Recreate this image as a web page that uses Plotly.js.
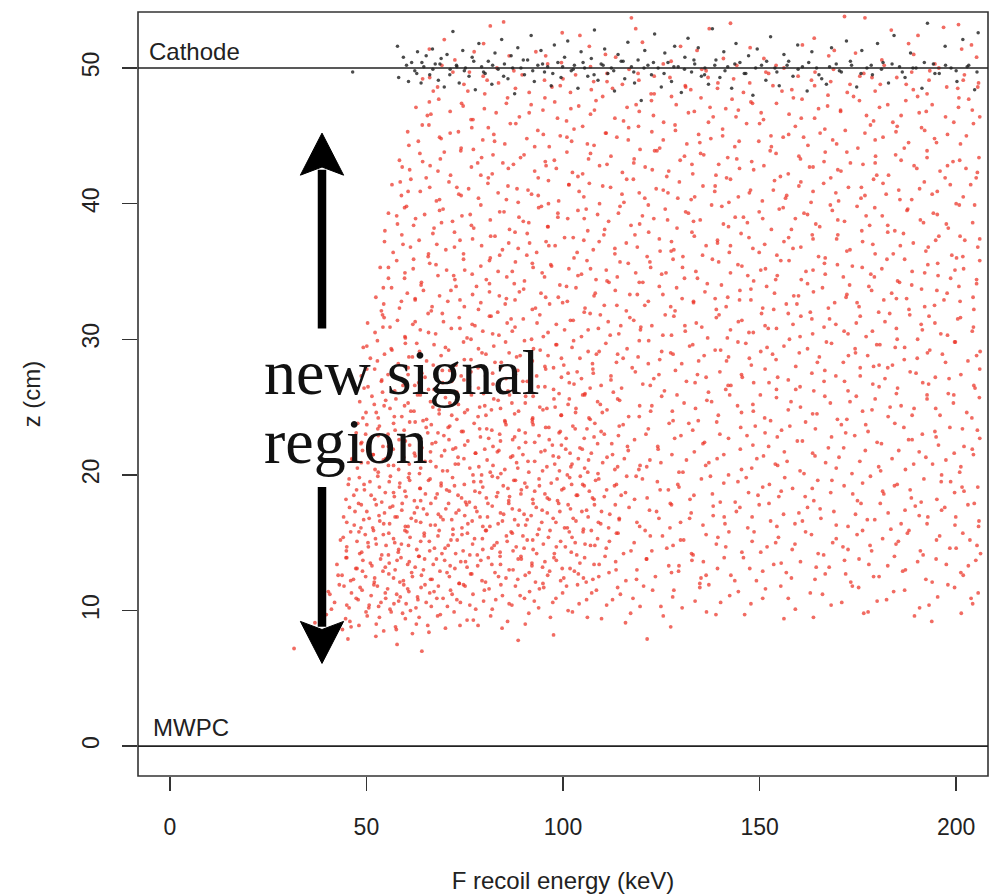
<!DOCTYPE html>
<html><head><meta charset="utf-8">
<script src="https://cdn.plot.ly/plotly-3.0.1.min.js"></script>
<style>html,body{margin:0;padding:0;background:#fff}#chart{width:993px;height:894px}</style>
</head><body><div id="chart"></div>
<script>
// ---- axis / labels ----
const xTicks = [0, 50, 100, 150, 200];
const zTicks = [0, 10, 20, 30, 40, 50];
const xTitle = 'F recoil energy (keV)';
const zTitle = 'z (cm)';
const cathodeZ = 50, mwpcZ = 0;
const cathodeLabel = 'Cathode', mwpcLabel = 'MWPC';
const regionLine1 = 'new signal', regionLine2 = 'region';

// ---- red events (x keV, z cm pairs), grouped by z band ----
const red_z06_10 = [31.6,7.2, 45.3,7.9, 57.8,7.5, 64.1,7.0, 88.6,7.8, 121.4,7.9,
36.9,9.1, 39.8,9.7, 41.2,8.3, 44.7,9.4, 46.1,8.8, 49.9,9.9, 52.4,8.1, 53.3,9.5, 57.6,8.6, 59.2,9.8, 62.7,9.0, 65.9,8.4, 68.1,9.6, 73.8,8.9, 77.2,9.3, 84.5,8.7, 91.3,9.8, 97.6,8.2, 106.2,9.5, 115.9,9.1, 127.4,8.8, 138.9,9.7, 156.2,9.4, 176.5,9.8, 193.8,9.2];
const red_z10_12 = [40.3,11.4, 41.9,10.6, 43.1,11.9, 45.6,10.2, 46.2,11.3, 47.9,10.8, 48.4,11.7, 50.7,10.4, 51.2,11.1, 52.8,11.8, 53.1,10.3, 54.9,10.9, 55.4,11.6, 56.0,10.1, 57.7,11.2, 58.2,10.7, 59.5,11.9, 60.1,10.5, 60.8,11.4, 62.6,10.2, 63.0,11.0, 63.9,11.7, 65.2,10.6, 66.1,11.3, 67.9,10.9, 68.3,11.8, 70.6,10.3, 71.4,11.5, 73.0,10.8, 74.7,11.9, 76.3,10.4, 77.1,11.2, 79.8,10.7, 81.2,11.6, 82.0,10.1, 84.6,11.1, 86.3,10.5, 87.9,11.8, 90.2,10.9, 91.5,11.4, 93.8,10.2, 95.1,11.7, 97.4,10.6, 99.9,11.3, 101.3,10.0, 103.7,11.9, 106.0,10.8, 108.5,11.5, 111.1,10.4, 114.6,11.2, 117.8,10.9, 120.5,11.8, 124.9,10.3, 128.2,11.5, 133.6,10.7, 137.1,11.9, 142.4,11.1, 147.8,10.5, 151.5,11.6, 157.3,10.9, 162.9,11.3, 168.2,10.4, 173.6,11.8, 179.9,10.7, 184.1,11.4, 190.7,10.2, 195.3,11.0, 199.6,11.7, 204.2,10.5];
const red_z12_14 = [42.5,13.4, 43.8,12.6, 45.0,13.9, 46.7,12.3, 47.3,13.1, 49.1,13.7, 49.8,12.5, 51.4,13.3, 52.0,12.1, 53.6,13.8, 54.2,12.9, 55.8,13.5, 56.9,12.4, 57.3,13.0, 58.8,13.9, 59.4,12.2, 60.9,13.6, 61.5,12.8, 62.4,13.2, 64.0,12.6, 64.8,13.8, 66.3,12.3, 67.0,13.4, 68.7,12.9, 69.9,13.7, 71.1,12.5, 72.5,13.1, 73.6,12.0, 75.2,13.6, 76.8,12.7, 78.3,13.3, 79.4,12.2, 81.0,13.9, 82.7,12.8, 84.1,13.4, 85.5,12.4, 87.3,13.0, 88.6,13.8, 90.4,12.6, 92.1,13.5, 93.0,12.1, 94.8,13.2, 96.6,12.9, 98.3,13.7, 100.2,12.4, 101.8,13.1, 103.9,12.7, 105.5,13.9, 107.6,12.3, 109.2,13.4, 111.7,12.8, 113.4,13.6, 116.0,12.2, 118.8,13.0, 121.2,13.8, 123.5,12.5, 126.9,13.3, 129.4,12.9, 132.8,13.7, 135.1,12.4, 139.3,13.1, 142.7,12.6, 145.9,13.9, 149.2,12.2, 153.6,13.4, 156.8,12.8, 160.4,13.6, 164.1,12.3, 167.7,13.2, 171.9,12.7, 175.3,13.8, 179.0,12.5, 182.6,13.3, 186.4,12.9, 190.2,13.6, 193.9,12.1, 197.5,13.4, 201.8,12.6, 205.0,13.7];
const red_z14_16 = [43.4,15.2, 44.9,14.4, 46.0,15.8, 47.6,15.1, 48.3,14.2, 49.7,15.6, 50.5,14.7, 51.8,15.9, 52.3,15.3, 53.9,14.1, 55.0,14.8, 55.7,15.7, 57.2,15.0, 58.1,14.3, 58.9,14.9, 60.3,15.8, 61.1,15.4, 62.8,14.5, 63.4,14.0, 64.7,15.5, 66.0,15.1, 67.3,14.6, 68.5,15.9, 69.2,14.2, 70.8,14.8, 72.0,15.6, 73.1,15.2, 74.6,14.4, 75.7,15.7, 77.0,14.9, 78.2,14.1, 79.5,15.3, 80.3,15.9, 81.9,14.6, 83.2,15.0, 84.0,14.3, 85.6,15.5, 86.8,15.8, 88.1,14.7, 89.3,14.0, 90.9,15.2, 92.4,14.5, 93.5,15.6, 95.0,14.9, 96.7,15.9, 97.8,14.2, 99.4,15.1, 100.6,14.7, 102.3,15.4, 103.5,14.1, 105.1,15.8, 107.0,14.8, 108.8,15.3, 111.0,14.6, 113.6,15.7, 115.4,14.2, 118.1,15.0, 120.9,15.9, 122.6,14.4, 125.3,15.5, 128.0,14.8, 130.7,15.2, 133.1,14.1, 136.4,15.6, 139.0,14.9, 142.2,15.8, 145.5,14.3, 148.1,15.1, 151.9,14.7, 154.8,15.4, 158.3,14.5, 161.7,15.8, 164.9,14.2, 168.6,15.0, 171.2,14.7, 174.8,15.6, 178.5,14.4, 181.3,15.3, 184.7,14.9, 188.0,15.9, 191.6,14.1, 195.0,15.2, 198.4,14.6, 201.7,15.7, 205.3,14.8];
const red_z16_18 = [44.2,16.9, 45.7,17.6, 46.9,16.3, 48.0,17.9, 49.3,16.7, 50.1,17.3, 51.6,16.1, 52.5,17.8, 53.4,16.6, 54.6,17.2, 55.9,16.4, 56.7,17.7, 57.8,16.9, 59.0,17.4, 60.6,16.2, 61.4,16.8, 62.9,17.6, 63.8,16.5, 65.4,17.1, 66.4,17.9, 67.5,16.3, 68.9,16.9, 70.2,17.5, 71.7,16.7, 72.8,17.2, 74.3,16.1, 75.5,17.8, 76.9,16.6, 78.1,17.3, 79.6,16.2, 80.8,16.9, 82.0,17.7, 83.5,16.4, 84.9,17.1, 86.2,17.9, 87.7,16.7, 88.9,17.4, 90.5,16.3, 91.9,17.0, 93.2,17.6, 94.6,16.5, 96.0,17.2, 97.5,16.8, 98.9,17.9, 100.4,16.1, 101.9,17.5, 103.3,16.6, 104.8,17.3, 106.4,16.9, 108.0,17.8, 109.6,16.4, 111.9,17.1, 114.3,16.7, 116.8,17.6, 119.5,16.2, 122.0,17.4, 124.4,16.8, 127.3,17.9, 129.9,16.5, 132.6,17.2, 135.6,16.3, 138.2,17.7, 141.0,16.9, 144.1,17.3, 147.0,16.1, 149.9,17.8, 152.8,16.6, 156.1,17.1, 159.0,16.4, 162.2,17.6, 165.6,16.8, 168.9,17.3, 172.5,16.2, 175.8,17.9, 179.3,16.7, 182.7,17.2, 186.0,16.4, 189.6,17.7, 192.8,16.9, 196.3,17.4, 199.7,16.3, 203.0,17.8, 205.8,16.6];
const red_z18_20 = [45.4,19.3, 46.8,18.5, 48.2,19.8, 49.5,18.9, 50.9,19.5, 52.1,18.2, 53.3,19.1, 54.8,18.7, 56.1,19.9, 57.1,18.4, 58.5,19.4, 59.8,18.8, 61.0,19.6, 62.2,18.1, 63.6,19.0, 65.0,18.6, 66.2,19.7, 67.6,18.3, 69.0,19.2, 70.4,18.9, 71.9,19.8, 73.3,18.5, 74.9,19.3, 76.2,18.0, 77.6,18.8, 79.1,19.5, 80.5,18.3, 82.0,19.9, 83.4,18.7, 84.8,19.2, 86.4,18.4, 87.9,19.6, 89.4,18.9, 90.8,19.1, 92.3,18.2, 93.9,19.7, 95.4,18.6, 97.0,19.4, 98.6,18.1, 100.2,19.0, 101.7,19.8, 103.4,18.5, 105.0,19.3, 106.7,18.8, 108.3,19.6, 110.5,18.4, 113.1,19.2, 115.9,18.7, 118.6,19.9, 121.4,18.3, 124.0,19.5, 126.8,18.9, 129.5,19.1, 132.3,18.2, 135.2,19.7, 138.0,18.6, 140.9,19.4, 143.8,18.0, 146.6,19.8, 149.6,18.5, 152.5,19.3, 155.5,18.8, 158.4,19.0, 161.6,18.4, 164.8,19.6, 168.1,18.7, 171.5,19.2, 174.9,18.1, 178.2,19.9, 181.6,18.6, 185.0,19.3, 188.3,18.9, 191.8,19.7, 195.1,18.2, 198.6,19.5, 202.0,18.8, 205.5,19.1];
const red_z20_22 = [46.3,21.2, 47.7,20.5, 49.0,21.8, 50.4,20.9, 51.7,21.5, 53.0,20.2, 54.3,21.1, 55.6,20.7, 56.8,21.9, 58.2,20.4, 59.5,21.3, 60.9,20.8, 62.2,21.6, 63.5,20.1, 64.9,21.0, 66.3,21.7, 67.7,20.6, 69.1,21.4, 70.6,20.3, 72.0,21.9, 73.4,20.8, 74.8,21.2, 76.3,20.5, 77.8,21.6, 79.3,20.0, 80.7,21.1, 82.2,20.7, 83.7,21.8, 85.2,20.4, 86.7,21.3, 88.2,20.9, 89.8,21.5, 91.3,20.2, 92.8,21.0, 94.4,21.7, 95.9,20.6, 97.5,21.4, 99.1,20.3, 100.7,21.9, 102.3,20.8, 103.9,21.2, 105.5,20.5, 107.2,21.6, 108.9,20.1, 111.2,21.3, 113.9,20.6, 116.6,21.8, 119.3,20.4, 122.1,21.1, 124.9,20.9, 127.7,21.5, 130.5,20.2, 133.4,21.7, 136.3,20.7, 139.2,21.2, 142.1,20.0, 145.1,21.9, 148.0,20.5, 151.0,21.4, 154.0,20.8, 157.0,21.0, 160.3,20.3, 163.5,21.6, 166.8,20.9, 170.2,21.3, 173.5,20.1, 176.9,21.8, 180.3,20.6, 183.7,21.2, 187.1,20.4, 190.6,21.7, 194.0,20.8, 197.4,21.1, 200.9,20.2, 204.4,21.5];
const red_z22_24 = [47.4,23.1, 48.8,22.4, 50.1,23.7, 51.5,22.8, 52.9,23.4, 54.2,22.1, 55.5,23.0, 56.9,23.8, 58.3,22.6, 59.6,23.3, 61.0,22.2, 62.4,23.9, 63.8,22.7, 65.2,23.5, 66.7,22.3, 68.2,23.1, 69.7,22.9, 71.2,23.6, 72.7,22.0, 74.2,23.2, 75.8,22.5, 77.4,23.8, 79.0,22.8, 80.6,23.4, 82.2,22.1, 83.9,23.0, 85.5,23.7, 87.2,22.6, 88.8,23.3, 90.5,22.4, 92.2,23.9, 93.9,22.9, 95.6,23.5, 97.3,22.2, 99.0,23.1, 100.8,22.7, 102.5,23.6, 104.3,22.0, 106.1,23.4, 107.9,22.8, 109.7,23.2, 112.4,22.3, 115.3,23.7, 118.2,22.6, 121.1,23.0, 124.1,22.1, 127.0,23.8, 130.0,22.9, 133.0,23.3, 136.0,22.4, 139.1,23.9, 142.1,22.7, 145.2,23.5, 148.3,22.2, 151.4,23.1, 154.5,22.8, 157.7,23.6, 160.9,22.5, 164.2,23.4, 167.5,22.0, 170.8,23.7, 174.2,22.9, 177.6,23.2, 181.0,22.3, 184.4,23.8, 187.9,22.6, 191.4,23.0, 194.9,22.8, 198.4,23.5, 202.0,22.1, 205.4,23.3];
const red_z24_26 = [48.3,25.4, 49.9,24.6, 51.4,25.8, 53.0,24.2, 54.5,25.1, 56.0,24.9, 57.5,25.6, 59.0,24.3, 60.6,25.3, 62.1,24.7, 63.7,25.9, 65.3,24.1, 66.9,25.0, 68.5,24.8, 70.1,25.7, 71.7,24.4, 73.4,25.2, 75.0,24.6, 76.7,25.9, 78.4,24.3, 80.1,25.1, 81.8,24.8, 83.5,25.5, 85.2,24.0, 87.0,25.3, 88.7,24.7, 90.5,25.8, 92.3,24.2, 94.1,25.0, 95.9,24.9, 97.7,25.6, 99.5,24.4, 101.3,25.2, 103.2,24.6, 105.0,25.9, 106.9,24.1, 108.8,25.4, 111.2,24.8, 113.9,25.6, 116.7,24.3, 119.5,25.1, 122.3,24.7, 125.1,25.8, 128.0,24.0, 130.8,25.3, 133.7,24.9, 136.6,25.5, 139.5,24.4, 142.4,25.9, 145.4,24.6, 148.3,25.2, 151.3,24.2, 154.3,25.7, 157.3,24.8, 160.4,25.0, 163.5,24.5, 166.6,25.8, 169.8,24.1, 173.0,25.4, 176.2,24.7, 179.4,25.6, 182.7,24.3, 186.0,25.1, 189.3,24.9, 192.6,25.9, 195.9,24.4, 199.3,25.3, 202.7,24.6, 205.9,25.7];
const red_z26_28 = [48.7,27.3, 50.4,26.5, 52.1,27.8, 53.8,26.9, 55.5,27.4, 57.2,26.2, 58.9,27.1, 60.6,27.9, 62.3,26.6, 64.1,27.5, 65.8,26.3, 67.6,27.2, 69.4,26.8, 71.2,27.7, 73.0,26.1, 74.8,27.0, 76.6,27.6, 78.5,26.4, 80.3,27.3, 82.2,26.7, 84.1,27.9, 86.0,26.2, 87.9,27.4, 89.8,26.9, 91.7,27.1, 93.7,26.5, 95.6,27.8, 97.6,26.3, 99.6,27.2, 101.6,26.8, 103.6,27.6, 105.6,26.0, 107.7,27.5, 109.7,26.6, 112.2,27.3, 114.9,26.4, 117.6,27.9, 120.3,26.7, 123.1,27.1, 125.8,26.2, 128.6,27.7, 131.4,26.9, 134.2,27.4, 137.0,26.1, 139.9,27.6, 142.7,26.6, 145.6,27.2, 148.5,26.8, 151.4,27.8, 154.3,26.3, 157.3,27.0, 160.3,26.5, 163.3,27.5, 166.4,26.9, 169.4,27.3, 172.5,26.2, 175.6,27.9, 178.8,26.7, 181.9,27.1, 185.1,26.4, 188.3,27.6, 191.5,26.8, 194.7,27.2, 198.0,26.0, 201.2,27.4, 204.5,26.6];
const red_z28_30 = [49.2,29.4, 51.0,28.6, 52.8,29.9, 54.6,28.9, 56.3,29.3, 58.1,28.2, 59.9,29.7, 61.7,28.7, 63.5,29.1, 65.3,28.4, 67.2,29.6, 69.0,28.8, 70.9,29.2, 72.8,28.1, 74.7,29.8, 76.6,28.5, 78.5,29.3, 80.4,28.9, 82.4,29.5, 84.3,28.3, 86.3,29.0, 88.2,28.7, 90.2,29.9, 92.2,28.4, 94.2,29.2, 96.2,28.8, 98.2,29.6, 100.2,28.1, 102.3,29.4, 104.3,28.6, 106.4,29.1, 108.5,28.9, 110.9,29.7, 113.6,28.3, 116.3,29.3, 119.1,28.7, 121.8,29.9, 124.6,28.5, 127.4,29.0, 130.2,28.2, 133.0,29.6, 135.9,28.8, 138.7,29.2, 141.6,28.4, 144.5,29.8, 147.4,28.6, 150.3,29.1, 153.3,28.9, 156.2,29.5, 159.2,28.0, 162.2,29.3, 165.2,28.7, 168.3,29.7, 171.3,28.3, 174.4,29.0, 177.5,28.8, 180.6,29.6, 183.8,28.1, 186.9,29.4, 190.1,28.6, 193.3,29.2, 196.5,28.9, 199.8,29.8, 203.0,28.4, 206.1,29.1];
const red_z30_32 = [50.3,31.2, 52.2,30.5, 54.1,31.8, 56.0,30.9, 57.9,31.4, 59.8,30.2, 61.8,31.1, 63.7,30.7, 65.7,31.9, 67.6,30.4, 69.6,31.3, 71.6,30.8, 73.6,31.6, 75.6,30.1, 77.6,31.0, 79.6,30.6, 81.7,31.7, 83.7,30.3, 85.8,31.2, 87.8,30.9, 89.9,31.5, 92.0,30.0, 94.1,31.8, 96.2,30.5, 98.3,31.1, 100.4,30.7, 102.6,31.4, 104.7,30.2, 106.9,31.9, 109.0,30.8, 111.5,31.3, 114.2,30.4, 117.0,31.6, 119.8,30.9, 122.6,31.0, 125.4,30.3, 128.2,31.7, 131.1,30.6, 133.9,31.2, 136.8,30.1, 139.7,31.8, 142.6,30.7, 145.5,31.4, 148.4,30.5, 151.4,31.0, 154.3,30.8, 157.3,31.9, 160.3,30.2, 163.3,31.5, 166.4,30.9, 169.4,31.1, 172.5,30.4, 175.6,31.7, 178.7,30.6, 181.9,31.3, 185.0,30.0, 188.2,31.8, 191.4,30.7, 194.6,31.2, 197.8,30.3, 201.1,31.6, 204.4,30.9];
const red_z32_34 = [52.4,33.1, 54.4,32.6, 56.4,33.8, 58.4,32.3, 60.4,33.4, 62.4,32.9, 64.5,33.6, 66.5,32.1, 68.6,33.2, 70.7,32.8, 72.8,33.9, 74.9,32.4, 77.0,33.3, 79.1,32.7, 81.3,33.5, 83.4,32.0, 85.6,33.0, 87.8,32.9, 90.0,33.7, 92.2,32.2, 94.4,33.4, 96.6,32.6, 98.8,33.1, 101.1,32.8, 103.3,33.8, 105.6,32.3, 107.9,33.2, 110.5,32.5, 113.3,33.6, 116.1,32.1, 118.9,33.3, 121.7,32.8, 124.5,33.9, 127.4,32.4, 130.3,33.0, 133.2,32.7, 136.1,33.5, 139.0,32.2, 141.9,33.1, 144.9,32.9, 147.8,33.7, 150.8,32.3, 153.8,33.4, 156.8,32.6, 159.9,33.2, 162.9,32.0, 166.0,33.8, 169.1,32.7, 172.2,33.3, 175.3,32.4, 178.5,33.6, 181.6,32.9, 184.8,33.0, 188.0,32.2, 191.2,33.7, 194.5,32.5, 197.7,33.4, 201.0,32.8, 204.3,33.1];
const red_z34_36 = [53.5,35.3, 55.6,34.5, 57.7,35.8, 59.8,34.9, 61.9,35.2, 64.0,34.2, 66.1,35.6, 68.2,34.7, 70.4,35.1, 72.5,34.4, 74.7,35.9, 76.9,34.8, 79.1,35.4, 81.3,34.1, 83.5,35.0, 85.7,34.6, 87.9,35.7, 90.2,34.3, 92.4,35.3, 94.7,34.9, 96.9,35.5, 99.2,34.0, 101.5,35.2, 103.8,34.7, 106.1,35.8, 108.4,34.4, 111.0,35.1, 113.8,34.6, 116.6,35.6, 119.4,34.2, 122.3,35.3, 125.1,34.8, 128.0,35.9, 130.9,34.5, 133.8,35.0, 136.7,34.1, 139.6,35.7, 142.6,34.9, 145.5,35.4, 148.5,34.3, 151.5,35.2, 154.5,34.7, 157.5,35.8, 160.6,34.4, 163.6,35.1, 166.7,34.8, 169.8,35.5, 172.9,34.0, 176.1,35.3, 179.2,34.6, 182.4,35.9, 185.6,34.2, 188.8,35.0, 192.0,34.9, 195.3,35.6, 198.6,34.5, 201.9,35.2, 205.2,34.1];
const red_z36_38 = [54.6,37.2, 56.8,36.4, 59.0,37.7, 61.2,36.8, 63.4,37.3, 65.7,36.1, 67.9,37.0, 70.2,36.6, 72.4,37.9, 74.7,36.3, 77.0,37.4, 79.3,36.9, 81.6,37.6, 83.9,36.2, 86.2,37.1, 88.6,36.7, 90.9,37.8, 93.3,36.4, 95.7,37.2, 98.0,36.9, 100.4,37.5, 102.8,36.0, 105.3,37.3, 107.7,36.6, 110.4,37.7, 113.2,36.3, 116.1,37.1, 118.9,36.8, 121.8,37.9, 124.7,36.5, 127.6,37.2, 130.5,36.1, 133.4,37.6, 136.4,36.9, 139.3,37.3, 142.3,36.4, 145.3,37.8, 148.3,36.7, 151.3,37.0, 154.4,36.2, 157.4,37.5, 160.5,36.8, 163.6,37.4, 166.7,36.0, 169.9,37.7, 173.0,36.6, 176.2,37.2, 179.4,36.3, 182.6,37.9, 185.8,36.9, 189.1,37.1, 192.3,36.5, 195.6,37.6, 198.9,36.2, 202.2,37.3, 205.5,36.8];
const red_z38_40 = [55.6,39.3, 57.9,38.5, 60.2,39.8, 62.5,38.9, 64.8,39.2, 67.2,38.2, 69.5,39.6, 71.9,38.7, 74.3,39.1, 76.7,38.4, 79.1,39.9, 81.5,38.8, 83.9,39.4, 86.4,38.1, 88.8,39.0, 91.3,38.6, 93.8,39.7, 96.2,38.3, 98.7,39.3, 101.2,38.9, 103.8,39.5, 106.3,38.0, 108.8,39.2, 111.6,38.7, 114.5,39.8, 117.3,38.4, 120.2,39.1, 123.1,38.9, 126.0,39.6, 129.0,38.2, 131.9,39.3, 134.9,38.8, 137.8,39.9, 140.8,38.5, 143.8,39.0, 146.9,38.6, 149.9,39.4, 153.0,38.1, 156.0,39.7, 159.1,38.9, 162.2,39.2, 165.3,38.3, 168.5,39.5, 171.6,38.7, 174.8,39.8, 178.0,38.4, 181.2,39.1, 184.4,38.0, 187.7,39.6, 190.9,38.8, 194.2,39.3, 197.5,38.5, 200.8,39.9, 204.2,38.6];
const red_z40_42 = [56.5,41.4, 58.9,40.6, 61.3,41.8, 63.7,40.9, 66.1,41.2, 68.6,40.3, 71.0,41.6, 73.5,40.7, 76.0,41.1, 78.5,40.4, 81.0,41.9, 83.5,40.8, 86.0,41.3, 88.6,40.1, 91.1,41.0, 93.7,40.6, 96.3,41.7, 98.9,40.2, 101.5,41.4, 104.1,40.9, 106.7,41.5, 109.3,40.0, 112.1,41.2, 115.0,40.7, 117.9,41.8, 120.8,40.4, 123.7,41.1, 126.7,40.8, 129.6,41.6, 132.6,40.3, 135.6,41.3, 138.6,40.9, 141.6,41.9, 144.6,40.5, 147.7,41.0, 150.7,40.2, 153.8,41.7, 156.9,40.6, 160.0,41.3, 163.1,40.1, 166.3,41.5, 169.4,40.8, 172.6,41.2, 175.8,40.4, 179.0,41.8, 182.2,40.7, 185.4,41.0, 188.7,40.3, 191.9,41.6, 195.2,40.9, 198.5,41.4, 201.8,40.5, 205.1,41.9];
const red_z42_44 = [58.4,43.2, 61.0,42.5, 63.6,43.7, 66.2,42.8, 68.8,43.3, 71.4,42.1, 74.0,43.9, 76.7,42.7, 79.3,43.4, 82.0,42.2, 84.7,43.0, 87.4,42.9, 90.1,43.6, 92.8,42.4, 95.5,43.1, 98.3,42.6, 101.0,43.8, 103.8,42.0, 106.5,43.3, 109.3,42.8, 112.2,43.5, 115.1,42.3, 118.0,43.0, 120.9,42.7, 123.9,43.9, 126.9,42.4, 129.8,43.2, 132.8,42.9, 135.8,43.6, 138.9,42.1, 141.9,43.4, 144.9,42.6, 148.0,43.1, 151.1,42.8, 154.2,43.7, 157.3,42.2, 160.4,43.3, 163.6,42.7, 166.7,43.8, 169.9,42.5, 173.1,43.0, 176.3,42.9, 179.5,43.5, 182.8,42.1, 186.0,43.2, 189.3,42.8, 192.6,43.9, 195.9,42.4, 199.2,43.1, 202.5,42.6, 205.8,43.4];
const red_z44_46 = [60.5,45.3, 63.2,44.6, 65.9,45.8, 68.6,44.9, 71.3,45.2, 74.1,44.1, 76.8,45.6, 79.6,44.7, 82.4,45.1, 85.2,44.4, 88.0,45.9, 90.8,44.8, 93.6,45.4, 96.5,44.2, 99.3,45.0, 102.2,44.6, 105.0,45.7, 107.9,44.3, 110.8,45.2, 113.7,44.9, 116.7,45.6, 119.6,44.0, 122.6,45.3, 125.5,44.7, 128.5,45.8, 131.5,44.4, 134.5,45.1, 137.6,44.8, 140.6,45.5, 143.7,44.2, 146.7,45.9, 149.8,44.6, 152.9,45.0, 156.0,44.9, 159.1,45.7, 162.3,44.3, 165.4,45.2, 168.6,44.7, 171.8,45.4, 175.0,44.1, 178.2,45.8, 181.4,44.9, 184.7,45.3, 187.9,44.5, 191.2,45.6, 194.5,44.8, 197.8,45.1, 201.1,44.4, 204.4,45.9];
const red_z46_48 = [62.6,47.1, 65.5,46.5, 68.4,47.7, 71.3,46.8, 74.2,47.4, 77.1,46.2, 80.0,47.0, 83.0,46.7, 85.9,47.8, 88.9,46.4, 91.9,47.3, 94.9,46.9, 97.9,47.5, 100.9,46.1, 104.0,47.2, 107.0,46.6, 110.1,47.9, 113.2,46.3, 116.3,47.1, 119.4,46.8, 122.5,47.6, 125.6,46.0, 128.8,47.3, 131.9,46.7, 135.1,47.8, 138.2,46.4, 141.4,47.0, 144.6,46.9, 147.8,47.5, 151.0,46.2, 154.3,47.4, 157.5,46.6, 160.8,47.7, 164.0,46.3, 167.3,47.2, 170.6,46.8, 173.9,47.9, 177.2,46.5, 180.5,47.1, 183.9,46.0, 187.2,47.6, 190.6,46.7, 193.9,47.3, 197.3,46.4, 200.7,47.8, 204.1,46.9];
const red_z48_54 = [64.3,49.2, 68.1,48.6, 72.0,49.7, 75.8,48.3, 79.7,49.4, 83.6,48.9, 87.5,49.8, 91.4,48.2, 95.3,49.1, 99.3,48.7, 103.2,49.5, 107.2,48.4, 111.2,49.0, 115.1,48.8, 119.1,49.6, 123.2,48.1, 127.2,49.3, 131.2,48.6, 135.3,49.9, 139.3,48.5, 143.4,49.2, 147.5,48.9, 151.6,49.7, 155.7,48.3, 159.8,49.4, 164.0,48.7, 168.1,49.0, 172.3,48.2, 176.5,49.6, 180.7,48.8, 184.9,49.3, 189.1,48.4, 193.3,49.8, 197.6,48.6, 201.8,49.1, 205.7,48.9,
66.0,51.4, 72.5,50.6, 79.8,51.8, 86.3,50.9, 93.1,51.2, 99.6,50.4, 106.7,51.6, 113.4,50.8, 120.2,51.9, 127.5,50.5, 134.1,51.3, 140.8,50.7, 147.6,51.5, 154.2,50.2, 160.9,51.7, 167.6,50.9, 174.4,51.1, 181.1,50.6, 187.9,51.8, 194.6,50.3, 201.4,51.4, 205.2,50.8,
81.5,53.1, 99.8,52.6, 117.4,53.7, 137.2,52.9, 171.6,53.8, 176.8,53.7, 190.3,52.4, 200.6,53.2];

const red2_z08_12 = [38.5,9.8, 40.7,11.2, 41.1,10.1, 43.9,8.6, 44.3,11.8, 45.0,10.4, 45.8,9.2, 47.4,10.9, 48.1,8.9, 48.9,11.5, 50.2,9.6, 50.6,10.2, 51.9,11.9, 52.5,9.0, 53.7,10.6, 54.4,8.5, 54.8,11.3, 56.3,9.9, 57.0,10.5, 57.4,8.8, 58.6,11.0, 59.9,9.4, 60.5,11.6, 61.2,10.0, 61.7,8.3, 63.1,10.8, 63.4,9.5, 64.9,11.9, 65.6,8.9, 66.5,10.3, 67.2,11.4, 68.8,9.7, 69.5,10.9, 70.1,8.7, 71.8,11.2, 72.3,9.9, 73.9,10.6, 75.1,11.8, 75.6,9.3, 77.8,10.1, 78.4,8.9, 80.0,11.5, 81.6,9.6, 82.9,10.8, 84.2,11.9, 85.9,9.2, 87.0,10.4, 89.1,11.1, 90.4,9.0, 92.7,10.7, 94.0,11.6, 96.8,9.5, 98.2,10.9, 100.9,11.8, 102.4,9.9, 104.1,10.5, 107.3,11.3, 109.8,9.4, 112.6,10.8, 113.9,11.7, 117.2,9.8, 119.6,10.3, 122.8,11.5, 125.5,9.6, 127.9,11.0, 130.3,10.2, 134.8,11.7, 136.5,9.9, 140.1,10.6, 144.6,11.4, 146.2,9.7, 150.8,10.9, 155.4,11.8, 159.1,10.1, 163.7,9.5, 166.0,11.2, 170.9,10.6, 175.2,11.7, 177.6,9.9, 182.3,10.8, 186.9,11.5, 189.4,9.6, 193.1,10.4, 197.9,11.9, 201.3,9.8, 203.8,10.9, 205.6,11.3];
const red2_z12_16 = [42.8,12.6, 44.1,15.4, 44.8,13.9, 45.0,14.7, 46.0,12.2, 47.6,13.1, 48.1,15.8, 48.8,14.3, 49.0,12.9, 50.4,15.0, 51.0,13.5, 52.1,12.4, 52.5,14.9, 54.3,15.6, 54.8,13.2, 55.6,14.1, 55.7,12.7, 56.9,15.3, 57.8,13.7, 58.2,14.5, 58.5,12.1, 59.8,15.9, 60.5,13.4, 60.7,14.8, 61.7,12.5, 63.3,14.0, 63.8,15.1, 64.5,13.0, 64.7,15.7, 66.1,14.4, 66.7,12.3, 67.8,13.8, 68.2,15.5, 70.0,14.6, 70.5,12.8, 71.3,13.3, 71.5,15.2, 72.7,14.2, 73.6,12.0, 74.0,13.6, 74.3,15.6, 75.6,13.2, 76.3,14.1, 76.5,12.7, 77.5,15.3, 79.1,13.7, 79.6,14.5, 80.3,12.1, 80.5,15.9, 81.9,13.4, 82.5,14.8, 83.6,12.5, 84.0,14.0, 85.8,15.1, 86.3,13.0, 87.1,15.7, 87.3,14.4, 88.5,12.3, 89.4,13.8, 89.8,15.5, 90.1,14.6, 91.4,12.8, 92.1,13.3, 92.3,15.2, 93.3,14.2, 94.9,12.0, 95.4,13.6, 96.1,12.6, 96.3,15.4, 97.7,13.9, 98.3,14.7, 99.4,12.2, 99.8,13.1, 101.6,15.8, 102.1,14.3, 102.9,12.9, 103.1,15.0, 104.3,13.5, 105.2,12.4, 105.6,14.9, 105.9,12.1, 107.2,15.9, 107.9,13.4, 108.1,14.8, 109.1,12.5, 110.7,14.0, 111.8,15.1, 113.5,13.0, 114.0,15.7, 117.3,14.4, 118.7,12.3, 121.3,13.8, 122.2,15.5, 126.4,14.6, 127.6,12.8, 129.5,13.3, 129.9,15.2, 132.7,14.2, 134.8,12.0, 135.7,13.6, 136.4,12.6, 139.4,15.4, 141.0,13.9, 141.4,14.7, 143.7,12.2, 147.5,13.1, 148.6,15.8, 150.3,14.3, 150.8,12.9, 154.1,15.0, 155.5,13.5, 158.1,12.4, 159.0,14.9, 163.2,15.6, 164.4,13.2, 166.3,14.1, 166.7,12.7, 169.5,15.3, 171.6,13.7, 172.5,14.5, 173.2,12.1, 176.2,15.9, 177.8,13.4, 178.1,14.8, 180.4,12.5, 184.3,14.0, 185.3,15.1, 187.1,13.0, 187.6,15.7, 190.9,14.4, 192.3,12.3, 194.9,13.8, 195.8,15.5, 200.0,14.6, 201.2,12.8, 203.1,13.3, 203.5,15.2, 206.2,14.2];
const red2_z16_20 = [44.8,18.2, 45.0,16.5, 45.6,19.7, 47.1,17.3, 47.5,18.9, 48.6,16.1, 48.7,17.8, 49.4,19.3, 50.7,16.8, 51.2,18.5, 52.9,19.9, 53.2,17.0, 53.9,18.0, 54.4,16.4, 55.8,19.5, 56.0,17.6, 56.9,18.7, 57.3,16.9, 58.4,19.1, 59.1,17.9, 59.9,16.2, 60.1,18.4, 60.7,19.8, 62.2,17.2, 62.6,16.6, 63.7,19.0, 63.8,18.1, 64.5,17.5, 65.8,19.6, 66.3,16.3, 68.0,18.6, 68.3,17.1, 69.0,19.4, 69.5,16.7, 70.9,17.9, 71.1,18.8, 72.0,16.0, 72.4,19.2, 73.5,17.4, 74.2,18.3, 75.0,17.0, 75.2,18.0, 75.8,16.4, 77.3,19.5, 77.7,17.6, 78.8,18.7, 78.9,16.9, 79.6,19.1, 80.9,17.9, 81.4,16.2, 83.1,18.4, 83.4,19.8, 84.1,17.2, 84.6,16.6, 86.0,19.0, 86.2,18.1, 87.1,17.5, 87.5,19.6, 88.6,16.3, 89.3,18.6, 90.1,17.1, 90.3,19.4, 90.9,16.7, 92.4,17.9, 92.8,18.8, 93.9,16.0, 94.0,19.2, 94.7,17.4, 96.0,18.3, 96.5,18.2, 98.2,16.5, 98.5,19.7, 99.2,17.3, 99.7,18.9, 101.1,16.1, 101.3,17.8, 102.2,19.3, 102.6,16.8, 103.7,18.5, 104.4,19.9, 105.2,16.0, 105.4,19.2, 106.0,17.4, 107.5,18.3, 107.9,18.2, 109.0,16.5, 109.1,19.7, 109.8,17.3, 111.1,18.9, 111.6,16.1, 113.3,17.8, 113.6,19.3, 114.3,16.8, 114.8,18.5, 116.2,19.9, 118.2,18.2, 118.8,16.5, 120.2,19.7, 123.8,17.3, 124.7,18.9, 127.2,16.1, 127.6,17.8, 129.2,19.3, 132.2,16.8, 133.3,18.5, 137.5,19.9, 138.2,17.0, 140.0,18.0, 141.2,16.4, 144.5,19.5, 145.0,17.6, 147.2,18.7, 148.1,16.9, 150.8,19.1, 152.4,17.9, 154.4,16.2, 154.9,18.4, 156.4,19.8, 160.0,17.2, 160.9,16.6, 163.4,19.0, 163.8,18.1, 165.4,17.5, 168.4,19.6, 169.5,16.3, 173.7,18.6, 174.4,17.1, 176.2,19.4, 177.4,16.7, 180.7,17.9, 181.3,18.8, 183.4,16.0, 184.3,19.2, 187.0,17.4, 188.6,18.3, 190.6,17.0, 191.1,18.0, 192.6,16.4, 196.2,19.5, 197.1,17.6, 199.6,18.7, 199.9,16.9, 201.5,19.1, 204.6,17.9, 205.7,16.2];
const red2_z20_24 = [46.4,21.1, 47.8,23.8, 48.6,22.3, 48.7,20.9, 49.8,23.0, 51.7,21.5, 52.2,20.4, 53.0,22.9, 53.3,23.6, 54.9,21.2, 55.6,22.1, 56.9,20.7, 57.3,23.3, 59.3,21.7, 59.9,22.5, 60.9,20.1, 61.0,23.9, 62.4,21.4, 63.4,22.8, 63.8,20.5, 64.1,22.0, 65.6,23.1, 66.3,21.0, 66.5,23.7, 67.6,22.4, 69.4,20.3, 69.9,21.8, 70.8,23.5, 71.0,22.6, 72.6,20.8, 73.3,21.3, 74.6,23.2, 75.0,22.2, 77.1,20.0, 77.7,21.6, 78.6,20.6, 78.8,23.4, 80.1,21.9, 81.1,22.7, 81.5,20.2, 81.9,23.3, 83.3,21.7, 84.1,22.5, 84.2,20.1, 85.3,23.9, 87.2,21.4, 87.7,22.8, 88.5,20.5, 88.8,22.0, 90.4,23.1, 91.1,21.0, 92.4,23.7, 92.8,22.4, 94.8,20.3, 95.4,21.8, 96.4,23.5, 96.5,22.6, 97.9,20.8, 98.9,21.3, 99.3,23.2, 99.6,22.2, 101.1,20.0, 101.8,21.6, 102.0,20.6, 103.1,23.4, 104.9,21.9, 105.4,22.7, 106.3,20.2, 106.5,21.1, 108.1,23.8, 108.8,22.3, 110.1,20.9, 110.5,23.0, 112.6,21.5, 113.2,20.4, 114.1,22.9, 114.3,23.6, 115.6,21.2, 116.4,22.1, 119.6,20.7, 121.3,20.6, 121.7,23.4, 124.2,21.9, 128.4,22.7, 129.5,20.2, 131.4,21.1, 132.0,23.8, 135.6,22.3, 137.1,20.9, 139.9,23.0, 140.9,21.5, 145.4,20.4, 146.8,22.9, 148.9,23.6, 149.3,21.2, 152.3,22.1, 154.6,20.7, 155.6,23.3, 156.3,21.7, 159.6,22.5, 161.3,20.1, 161.7,23.9, 164.1,21.4, 168.3,22.8, 169.5,20.5, 171.4,22.0, 171.9,23.1, 175.5,21.0, 177.0,23.7, 179.9,22.4, 180.8,20.3, 185.4,21.8, 186.7,23.5, 188.8,22.6, 189.2,20.8, 192.3,21.3, 194.6,23.2, 195.5,22.2, 196.3,20.0, 199.5,21.6, 201.2,20.6, 201.6,23.4, 204.1,21.9, 206.0,22.7];
const red2_z24_28 = [49.1,24.2, 49.4,26.4, 50.1,27.8, 52.0,25.2, 52.5,24.6, 53.9,27.0, 54.1,26.1, 54.9,25.5, 56.5,27.6, 57.1,24.3, 59.3,26.6, 59.7,25.1, 60.6,27.4, 61.3,24.7, 63.0,25.9, 63.3,26.8, 64.4,24.0, 64.9,27.2, 66.3,25.4, 67.2,26.3, 68.2,26.2, 68.5,24.5, 69.3,27.7, 71.2,25.3, 71.7,26.9, 73.0,24.1, 73.2,25.8, 74.1,27.3, 75.7,24.8, 76.2,26.5, 78.4,27.9, 78.8,25.0, 79.8,26.0, 80.4,24.4, 82.1,27.5, 82.4,25.6, 83.6,26.7, 84.1,24.9, 85.5,27.1, 86.4,25.9, 87.4,26.2, 87.7,24.5, 88.5,27.7, 90.4,25.3, 90.9,26.9, 92.2,24.1, 92.4,25.8, 93.3,27.3, 94.9,24.8, 95.4,26.5, 97.6,27.9, 98.0,25.0, 99.0,26.0, 99.6,24.4, 101.3,27.5, 101.6,25.6, 102.8,26.7, 103.3,24.9, 104.7,27.1, 105.5,25.9, 106.6,24.2, 106.9,26.4, 107.6,27.8, 109.5,25.2, 110.0,24.6, 112.2,27.0, 112.8,26.1, 114.4,25.5, 118.4,27.6, 119.4,24.3, 122.2,26.6, 122.6,25.1, 124.4,27.4, 127.8,24.7, 129.0,25.9, 133.6,26.8, 134.4,24.0, 136.4,27.2, 137.8,25.4, 141.4,26.3, 142.0,26.6, 144.4,25.1, 145.4,27.4, 148.4,24.7, 150.2,25.9, 152.4,26.8, 152.8,24.0, 154.6,27.2, 158.0,25.4, 159.2,26.3, 163.8,26.2, 164.6,24.5, 166.6,27.7, 168.0,25.3, 171.6,26.9, 172.2,24.1, 174.6,25.8, 175.6,27.3, 178.6,24.8, 180.4,26.5, 182.6,27.9, 183.2,25.0, 184.8,26.0, 188.8,24.4, 189.8,27.5, 192.6,25.6, 193.0,26.7, 194.8,24.9, 198.2,27.1, 199.4,25.9, 204.0,24.2, 204.8,26.4, 206.0,27.8];
const red2_z28_32 = [50.1,29.5, 52.8,28.4, 54.2,30.9, 54.5,31.6, 56.5,29.2, 59.9,30.1, 60.8,28.7, 62.4,31.3, 62.8,29.7, 65.8,30.5, 67.0,28.1, 69.3,31.9, 70.1,29.4, 73.8,30.8, 74.9,28.5, 76.6,30.0, 76.9,31.1, 79.4,29.0, 81.3,31.7, 82.1,30.4, 82.7,28.3, 85.4,29.8, 86.8,31.5, 87.1,30.6, 89.1,28.8, 92.5,29.3, 93.4,31.2, 95.0,30.2, 95.4,28.0, 98.4,29.6, 99.6,28.6, 101.9,31.4, 102.7,29.9, 106.4,30.7, 107.5,28.2, 109.2,29.1, 109.5,31.8, 112.0,30.3, 113.9,28.9, 114.7,31.0, 115.3,28.6, 118.0,31.4, 119.4,29.9, 119.7,30.7, 121.7,28.2, 125.1,29.1, 126.0,31.8, 127.6,30.3, 128.0,28.9, 131.0,31.0, 132.2,29.5, 134.5,28.4, 135.3,30.9, 139.0,31.6, 140.1,29.2, 141.8,30.1, 142.1,28.7, 144.6,31.3, 146.5,29.7, 147.3,30.5, 147.9,28.1, 150.5,31.9, 151.9,29.4, 152.2,30.8, 154.2,28.5, 157.6,30.0, 158.5,31.1, 160.1,29.0, 160.5,31.7, 163.5,30.4, 164.7,28.3, 167.0,29.8, 167.8,31.5, 171.5,30.6, 172.6,28.8, 174.3,29.3, 174.6,31.2, 177.1,30.2, 179.0,28.0, 179.8,29.6, 180.4,28.1, 183.1,31.9, 184.5,29.4, 184.8,30.8, 186.8,28.5, 190.2,30.0, 191.1,31.1, 192.7,29.0, 193.1,31.7, 196.1,30.4, 197.3,28.3, 199.6,29.8, 200.4,31.5, 204.1,30.6, 205.2,28.8];
const red2_z32_36 = [53.8,32.1, 54.3,33.8, 55.6,35.3, 58.9,32.8, 59.7,34.5, 62.0,35.9, 62.4,33.0, 63.9,34.0, 66.7,32.4, 67.7,35.5, 71.5,33.6, 72.2,34.7, 73.8,32.9, 75.0,35.1, 78.0,33.9, 78.5,32.2, 80.5,34.4, 81.3,35.8, 83.8,33.2, 85.3,32.6, 87.1,35.0, 87.6,34.1, 88.9,33.5, 92.2,35.6, 93.0,32.3, 95.3,34.6, 95.6,33.1, 97.1,35.4, 99.9,32.7, 100.9,33.9, 104.7,34.8, 105.4,32.0, 107.0,35.2, 108.2,33.4, 111.2,34.3, 111.7,34.2, 113.7,32.5, 114.5,35.7, 117.0,33.3, 118.5,34.9, 120.3,34.2, 120.8,32.5, 122.1,35.7, 125.4,33.3, 126.2,34.9, 128.5,32.1, 128.9,33.8, 130.4,35.3, 133.2,32.8, 134.2,34.5, 138.0,35.9, 138.7,33.0, 140.3,34.0, 141.5,32.4, 144.5,35.5, 145.0,33.6, 147.0,34.7, 147.8,32.9, 150.3,35.1, 151.8,33.9, 153.6,32.2, 154.1,34.4, 155.4,35.8, 158.7,33.2, 159.5,32.6, 161.8,35.0, 162.2,34.1, 163.7,33.5, 166.5,35.6, 167.5,32.3, 171.3,34.6, 172.0,33.1, 173.6,35.4, 174.8,32.7, 177.8,33.9, 178.3,34.8, 180.3,32.0, 181.1,35.2, 183.6,33.4, 185.1,34.3, 186.9,35.9, 187.4,33.0, 188.7,34.0, 192.0,32.4, 192.8,35.5, 195.1,33.6, 195.4,34.7, 196.9,32.9, 199.7,35.1, 200.7,33.9, 204.5,32.2, 205.2,34.4, 206.0,35.8];
const red2_z36_40 = [54.7,38.0, 57.7,39.1, 59.3,37.0, 59.7,39.7, 62.0,38.4, 65.8,36.3, 66.9,37.8, 68.6,39.5, 69.1,38.6, 72.4,36.8, 73.8,37.3, 76.4,39.2, 77.3,38.2, 81.5,36.0, 82.7,37.6, 84.6,36.6, 85.0,39.4, 87.8,37.9, 89.9,38.7, 90.8,36.2, 91.5,37.1, 94.5,39.8, 96.1,38.3, 96.4,36.9, 98.7,39.0, 102.6,37.5, 103.6,36.4, 105.4,38.9, 105.9,39.6, 109.2,37.2, 110.6,38.1, 113.2,36.7, 114.1,39.3, 118.3,37.7, 119.5,38.5, 121.4,36.1, 121.7,39.9, 124.5,37.4, 126.6,38.8, 127.5,36.5, 128.2,36.6, 131.2,39.4, 132.8,37.9, 133.2,38.7, 135.5,36.2, 139.3,37.1, 140.4,39.8, 142.1,38.3, 142.6,36.9, 145.9,39.0, 147.3,37.5, 149.9,36.4, 150.8,38.9, 155.0,39.6, 156.2,37.2, 158.1,38.1, 158.5,36.7, 161.3,39.3, 163.4,37.7, 164.3,38.5, 165.0,36.1, 168.0,39.9, 169.6,37.4, 169.9,38.8, 172.2,36.5, 176.0,38.0, 177.1,39.1, 178.8,37.0, 179.3,39.7, 182.6,38.4, 184.0,36.3, 186.6,37.8, 187.5,39.5, 191.7,38.6, 192.9,36.8, 194.8,37.3, 195.2,39.2, 198.0,38.2, 200.1,36.0, 201.0,37.6, 201.7,36.1, 204.7,39.9, 206.0,37.4];
const red2_z40_44 = [58.6,41.6, 59.1,42.7, 60.6,40.9, 64.3,43.1, 65.2,41.9, 67.8,40.2, 68.2,42.4, 69.8,43.8, 73.0,41.2, 74.1,40.6, 78.3,43.0, 79.1,42.1, 80.9,41.5, 82.2,43.6, 85.6,40.3, 86.1,42.6, 88.3,41.1, 89.2,43.4, 92.0,40.7, 93.7,41.9, 95.7,42.8, 96.3,40.0, 97.8,43.2, 101.5,41.4, 102.4,42.3, 105.0,42.2, 105.3,40.5, 107.0,43.7, 110.1,41.3, 111.2,42.9, 115.5,40.1, 116.2,41.8, 118.1,43.3, 119.4,40.8, 122.7,42.5, 123.3,43.9, 125.5,41.0, 126.4,42.0, 129.2,40.4, 130.9,43.5, 133.0,42.2, 133.5,40.5, 135.0,43.7, 138.7,41.3, 139.6,42.9, 142.2,40.1, 142.6,41.8, 144.2,43.3, 147.4,40.8, 148.5,42.5, 152.7,43.9, 153.5,41.0, 155.3,42.0, 156.6,40.4, 160.0,43.5, 160.5,41.6, 162.7,42.7, 163.6,40.9, 166.4,43.1, 168.1,41.9, 170.1,40.2, 170.7,42.4, 172.2,43.8, 175.9,41.2, 176.8,40.6, 179.4,43.0, 179.8,42.1, 181.4,41.5, 184.6,43.6, 185.7,40.3, 190.0,42.6, 190.7,41.1, 192.6,43.4, 193.9,40.7, 197.2,41.9, 197.8,42.8, 200.0,40.0, 200.9,43.2, 203.7,41.4, 205.4,42.3];
const red2_z44_48 = [60.8,44.3, 64.2,45.8, 66.0,47.5, 66.4,46.6, 69.0,44.8, 73.4,45.3, 74.6,47.2, 76.6,46.2, 77.2,44.0, 81.0,45.6, 82.6,44.6, 85.6,47.4, 86.6,45.9, 91.4,46.7, 92.8,44.2, 95.0,45.1, 95.4,47.8, 98.6,46.3, 101.0,44.9, 102.0,47.0, 102.8,45.5, 106.2,44.4, 108.0,46.9, 108.4,47.6, 111.0,45.2, 115.4,46.1, 116.6,44.7, 118.6,47.3, 119.2,45.7, 123.0,46.5, 124.6,44.1, 127.6,47.9, 128.6,45.4, 133.4,46.8, 134.8,44.5, 137.0,46.0, 137.4,47.1, 140.6,45.0, 143.0,47.7, 144.0,46.4, 144.8,44.6, 148.2,47.4, 150.0,45.9, 150.4,46.7, 153.0,44.2, 157.4,45.1, 158.6,47.8, 160.6,46.3, 161.2,44.9, 165.0,47.0, 166.6,45.5, 169.6,44.4, 170.6,46.9, 175.4,47.6, 176.8,45.2, 179.0,46.1, 179.4,44.7, 182.6,47.3, 185.0,45.7, 186.0,46.5, 186.8,44.1, 190.2,47.9, 192.0,45.4, 192.4,46.8, 195.0,44.5, 199.4,46.0, 200.6,47.1, 202.6,45.0, 203.2,47.7, 206.0,46.4];
const red2_z48_54 = [66.1,49.3, 67.0,48.3, 69.2,50.2, 74.8,48.8, 76.2,49.7, 80.1,48.1, 80.7,49.1, 83.2,50.0, 87.9,48.5, 89.6,49.5, 96.1,50.3, 97.2,48.6, 100.0,49.2, 101.9,48.2, 107.0,50.1, 107.8,49.0, 111.2,49.6, 112.6,48.5, 116.8,49.9, 119.3,49.1, 122.4,48.1, 123.2,49.4, 125.5,50.3, 131.1,48.7, 132.5,48.4, 136.4,49.8, 136.9,49.3, 139.4,48.9, 144.2,50.2, 145.9,48.2, 152.3,49.6, 153.4,48.7, 156.2,50.0, 158.2,48.4, 163.2,49.1, 164.1,49.7, 167.4,48.0, 168.8,49.9, 173.0,48.8, 175.5,49.4, 178.6,49.3, 179.4,48.3, 181.7,50.2, 187.3,48.8, 188.7,49.7, 192.6,48.1, 193.1,49.1, 195.6,50.0, 200.4,48.5, 202.1,49.5, 205.5,48.6,
69.8,52.1, 77.4,51.2, 84.9,53.4, 95.6,50.9, 104.3,52.4, 110.8,51.0, 118.5,52.9, 129.9,51.6, 142.6,53.3, 151.1,50.7, 163.9,52.2, 169.0,51.3, 183.5,52.8, 189.2,51.0, 196.8,53.0, 203.9,51.7];

// ---- black events at the cathode (x keV, z cm pairs) ----
const black_cathode = [46.5,49.7, 57.9,51.6, 58.2,49.3, 59.4,50.8, 60.7,49.0, 61.5,50.4, 62.3,49.8, 63.0,51.2, 63.9,48.9, 64.6,50.1, 65.2,50.9, 66.1,49.5, 66.8,51.4, 67.5,50.3, 68.3,49.1, 69.0,50.7, 69.8,48.6, 70.5,51.0, 71.3,49.9, 72.0,52.7, 72.9,50.2, 73.6,48.9, 74.5,51.3, 75.2,50.0, 76.1,49.4, 76.9,50.8, 77.7,48.4, 78.6,51.8, 79.3,50.1, 80.2,49.6, 81.0,50.5, 81.9,48.8, 82.7,51.1, 83.5,49.9, 84.4,52.1, 85.1,50.3, 86.0,49.2, 86.8,50.9, 87.7,48.1, 88.5,51.5, 89.3,50.0, 90.2,49.5, 91.0,50.6, 91.9,52.4, 92.7,49.0, 93.6,50.2, 94.4,51.3, 95.3,49.7, 96.1,50.1, 97.0,48.7, 97.8,51.7, 98.7,50.4, 99.5,49.3, 100.4,50.8, 101.2,52.0, 102.1,49.8, 102.9,50.2, 103.8,48.5, 104.6,51.2, 105.5,50.0, 106.3,49.4, 107.2,50.7, 108.0,52.8, 108.9,49.1, 109.7,50.3, 110.6,51.4, 111.4,49.6, 112.3,50.0, 113.1,48.3, 114.0,51.0, 114.8,50.5, 115.7,49.2, 116.5,51.9, 117.4,50.1, 118.2,48.9, 119.1,50.6, 119.9,47.6, 120.8,51.3, 121.6,50.2, 122.5,49.5, 123.3,52.5, 124.2,50.0, 125.0,48.6, 125.9,51.1, 126.7,50.4, 127.6,49.0, 128.4,51.6, 129.3,50.1, 130.1,48.2, 131.0,50.8, 131.8,52.2, 132.7,49.7, 133.5,50.3, 134.4,51.5, 135.2,49.4, 136.1,50.0, 137.0,48.8, 138.0,52.9, 138.9,50.6, 139.9,49.3, 140.9,51.2, 141.9,50.1, 142.9,48.5, 144.0,51.8, 145.0,50.4, 146.1,49.6, 147.2,50.9, 148.3,48.0, 149.4,51.4, 150.5,50.2, 151.6,49.1, 152.8,52.3, 153.9,50.0, 155.0,48.7, 156.2,51.0, 157.4,50.5, 158.5,49.4, 159.7,51.7, 160.9,50.1, 162.1,48.3, 163.3,51.2, 164.5,50.0, 165.8,49.2, 167.0,48.8, 168.3,51.5, 169.5,50.3, 170.8,49.7, 172.1,52.0, 173.4,50.2, 174.7,48.6, 176.0,51.3, 177.3,50.0, 178.7,49.5, 180.0,51.8, 181.4,50.4, 182.8,48.9, 184.2,52.4, 185.6,50.1, 187.0,49.3, 188.4,51.1, 189.8,50.0, 191.3,48.5, 192.7,53.3, 194.2,50.3, 195.7,49.6, 197.2,51.6, 198.7,50.0, 200.2,49.0, 201.7,52.1, 203.2,50.2, 204.7,48.4, 205.6,52.6];
const black_on_line = [60.2,50.2, 62.8,49.6, 64.1,50.4, 66.9,49.9, 68.7,50.3, 71.2,49.5, 73.0,50.1, 74.9,49.8, 77.3,50.5, 79.8,49.7, 82.1,50.2, 84.9,49.4, 87.2,50.0, 89.9,50.6, 92.3,49.8, 94.8,50.3, 97.4,49.6, 99.9,50.1, 102.6,49.9, 105.1,50.4, 107.9,49.5, 110.2,50.2, 112.9,49.8, 115.3,50.5, 118.0,49.7, 120.6,50.0, 123.0,50.4, 125.7,49.6, 128.2,50.1, 130.9,49.9, 133.3,50.6, 136.0,49.5, 138.6,50.2, 141.2,49.8, 143.7,50.3, 146.5,49.6, 149.0,50.0, 151.8,50.5, 154.4,49.7, 157.0,50.2, 159.8,49.9, 162.5,50.4, 165.1,49.5, 167.8,50.1, 170.3,49.8, 173.1,50.5, 175.8,49.6, 178.4,50.2, 181.0,49.9, 183.7,50.3, 186.3,49.7, 189.0,50.0, 191.9,50.4, 194.6,49.6, 197.3,50.2, 200.0,49.8, 202.8,50.1, 205.3,49.7];

function unpack(groups) {
  const x = [], y = [];
  groups.forEach(g => { for (let i = 0; i + 1 < g.length; i += 2) { x.push(g[i]); y.push(g[i + 1]); } });
  return { x, y };
}
const red = unpack([red_z06_10, red_z10_12, red_z12_14, red_z14_16, red_z16_18, red_z18_20, red_z20_22,
  red_z22_24, red_z24_26, red_z26_28, red_z28_30, red_z30_32, red_z32_34, red_z34_36, red_z36_38,
  red_z38_40, red_z40_42, red_z42_44, red_z44_46, red_z46_48, red_z48_54,
  red2_z08_12, red2_z12_16, red2_z16_20, red2_z20_24, red2_z24_28, red2_z28_32, red2_z32_36,
  red2_z36_40, red2_z40_44, red2_z44_48, red2_z48_54]);
const blk = unpack([black_cathode, black_on_line]);

const SANS = '"Liberation Sans", Arial, Helvetica, sans-serif';
const SERIF = '"Liberation Serif", "Times New Roman", serif';

const traces = [
  { type: 'scatter', mode: 'markers', x: red.x, y: red.y, hoverinfo: 'skip',
    marker: { size: 3.8, color: 'rgba(236,50,38,0.72)', line: { width: 0 } } },
  { type: 'scatter', mode: 'markers', x: blk.x, y: blk.y, hoverinfo: 'skip',
    marker: { size: 3.5, color: 'rgba(30,30,30,0.8)', line: { width: 0 } } }
];

const ARROW_X = 38.7;
const layout = {
  width: 993, height: 894,
  margin: { l: 138, r: 5, t: 12, b: 118, pad: 0 },
  paper_bgcolor: '#ffffff', plot_bgcolor: '#ffffff',
  showlegend: false,
  font: { family: SANS, size: 23, color: '#222' },
  xaxis: {
    range: [-8.1, 208.1], tickvals: xTicks, ticktext: xTicks.map(String),
    ticks: 'outside', ticklen: 14, tickwidth: 1.5, tickcolor: '#333',
    showgrid: false, zeroline: false, showline: false, ticklabelstandoff: 16,
    tickfont: { family: SANS, size: 23, color: '#222' },
    title: { text: xTitle, font: { family: SANS, size: 24, color: '#222' }, standoff: 34 }
  },
  yaxis: {
    range: [-2.2, 54.13], tickvals: zTicks, ticktext: zTicks.map(String),
    ticks: 'outside', ticklen: 15, tickwidth: 1.5, tickcolor: '#333', tickangle: -90,
    showgrid: false, zeroline: false, showline: false, ticklabelstandoff: 14,
    tickfont: { family: SANS, size: 23, color: '#222' },
    title: { text: zTitle, font: { family: SANS, size: 24, color: '#222' }, standoff: 30 }
  },
  shapes: [
    { type: 'rect', xref: 'paper', yref: 'paper', x0: 0, x1: 1, y0: 0, y1: 1, line: { color: '#333', width: 1.6 } },
    { type: 'line', xref: 'paper', yref: 'y', x0: 0, x1: 1, y0: cathodeZ, y1: cathodeZ, line: { color: '#222', width: 1.6 } },
    { type: 'line', xref: 'paper', yref: 'y', x0: 0, x1: 1, y0: mwpcZ, y1: mwpcZ, line: { color: '#222', width: 1.6 } },
    { type: 'line', xref: 'x', yref: 'y', x0: ARROW_X, x1: ARROW_X, y0: 30.8, y1: 42.5, line: { color: '#000', width: 8.5 } },
    { type: 'path', xref: 'x', yref: 'y', path: 'M 33.2 42.1 L 38.7 45.2 L 44.2 42.1 L 38.7 42.7 Z', fillcolor: '#000', line: { color: '#000', width: 1 } },
    { type: 'line', xref: 'x', yref: 'y', x0: ARROW_X, x1: ARROW_X, y0: 19.1, y1: 8.8, line: { color: '#000', width: 8.5 } },
    { type: 'path', xref: 'x', yref: 'y', path: 'M 33.2 9.2 L 38.7 6.1 L 44.2 9.2 L 38.7 8.6 Z', fillcolor: '#000', line: { color: '#000', width: 1 } }
  ],
  annotations: [
    { text: cathodeLabel, xref: 'paper', yref: 'paper', x: 0.0106, y: 0.9686, xanchor: 'left', yanchor: 'top', showarrow: false, font: { family: SANS, size: 24, color: '#222' } },
    { text: mwpcLabel, xref: 'paper', yref: 'paper', x: 0.0153, y: 0.0838, xanchor: 'left', yanchor: 'top', showarrow: false, font: { family: SANS, size: 24, color: '#222' } },
    { text: regionLine1, xref: 'paper', yref: 'paper', x: 0.1462, y: 0.5772, xanchor: 'left', yanchor: 'top', showarrow: false, font: { family: SERIF, size: 64, color: '#111' } },
    { text: regionLine2, xref: 'paper', yref: 'paper', x: 0.1462, y: 0.4869, xanchor: 'left', yanchor: 'top', showarrow: false, font: { family: SERIF, size: 64, color: '#111' } }
  ]
};

Plotly.newPlot('chart', traces, layout, { staticPlot: true, displayModeBar: false });
</script>
</body></html>
